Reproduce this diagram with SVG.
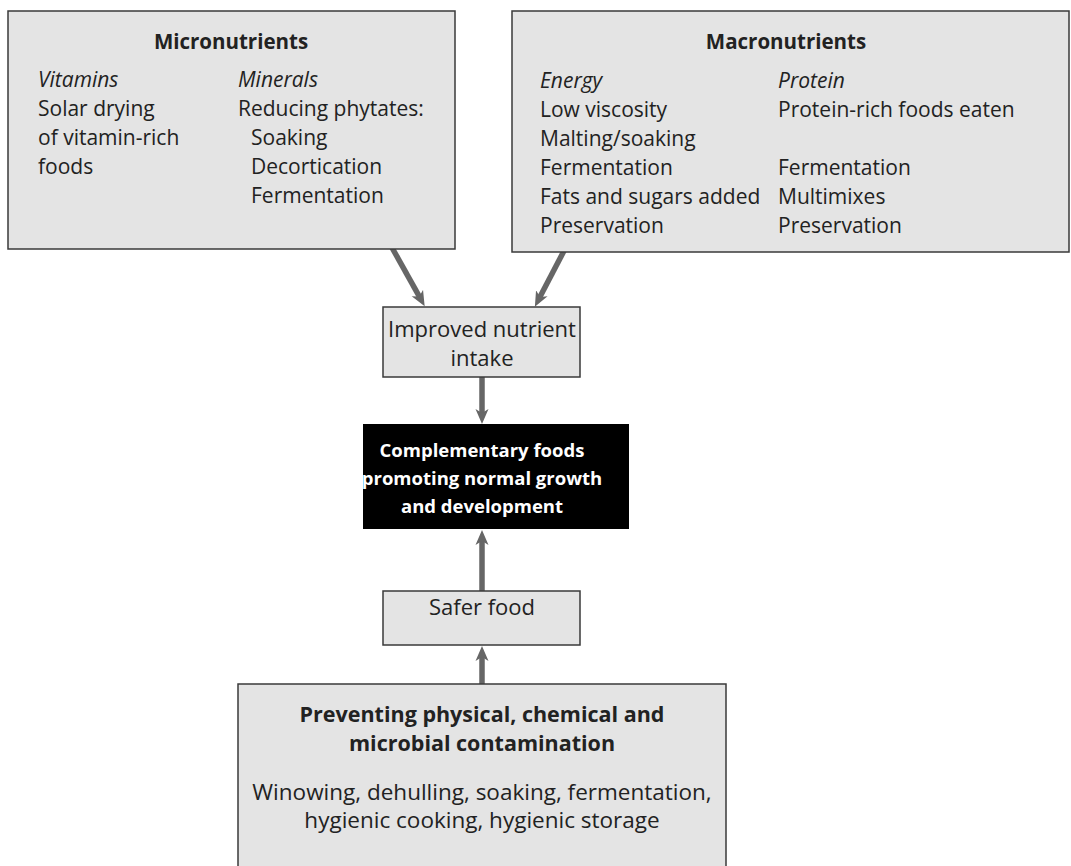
<svg xmlns="http://www.w3.org/2000/svg" width="1071" height="866" viewBox="0 0 1071 866">
<style>
.box{fill:#e4e4e4;stroke:#3a3a3a;stroke-width:1.5}
.t{font-family:"Open Sans","Liberation Sans",sans-serif;font-size:21px;fill:#222}
.b{font-weight:bold;font-size:20.5px}
.i{font-style:italic}
.m{font-size:22px}
.bb{font-weight:bold;font-size:21.5px}
.l{font-size:22.5px}
.w{fill:#fff;font-weight:bold;font-size:18.5px}
.c{text-anchor:middle}
.arr{stroke:#666;stroke-width:5.5;fill:none;marker-end:url(#ah)}
</style>
<defs>
<marker id="ah" markerUnits="userSpaceOnUse" markerWidth="16" markerHeight="14" refX="5" refY="6.5" orient="auto" viewBox="0 0 16 13">
<path d="M15,6.5 L0,0 L4,6.5 L0,13 Z" fill="#666"/>
</marker>
</defs>
<rect width="1071" height="866" fill="#fff"/>
<g id="connectors">
<path class="arr" d="M390,244 L419.8,297.4"/>
<path class="arr" d="M566,247 L539.5,297.8"/>
<path class="arr" d="M482,377 L482,414"/>
<path class="arr" d="M482,591 L482,540"/>
<path class="arr" d="M482,684 L482,656"/>
</g>
<g id="micronutrients">
<rect class="box" x="8" y="11" width="447" height="238"/>
<text class="t b c" x="231" y="49">Micronutrients</text>
<text class="t i" x="38" y="87">Vitamins</text>
<text class="t" x="38" y="116">Solar drying</text>
<text class="t" x="38" y="145">of vitamin-rich</text>
<text class="t" x="38" y="174">foods</text>
<text class="t i" x="238" y="87">Minerals</text>
<text class="t" x="238" y="116">Reducing phytates:</text>
<text class="t" x="251" y="145">Soaking</text>
<text class="t" x="251" y="174">Decortication</text>
<text class="t" x="251" y="203">Fermentation</text>
</g>
<g id="macronutrients">
<rect class="box" x="512" y="11" width="557" height="241"/>
<text class="t b c" x="786" y="49">Macronutrients</text>
<text class="t i" x="540" y="88">Energy</text>
<text class="t" x="540" y="117">Low viscosity</text>
<text class="t" x="540" y="146">Malting/soaking</text>
<text class="t" x="540" y="175">Fermentation</text>
<text class="t" x="540" y="204">Fats and sugars added</text>
<text class="t" x="540" y="233">Preservation</text>
<text class="t i" x="778" y="88">Protein</text>
<text class="t" x="778" y="117">Protein-rich foods eaten</text>
<text class="t" x="778" y="175">Fermentation</text>
<text class="t" x="778" y="204">Multimixes</text>
<text class="t" x="778" y="233">Preservation</text>
</g>
<g id="improved">
<rect class="box" x="383" y="307" width="197" height="70"/>
<text class="t m c" x="482" y="337">Improved nutrient</text>
<text class="t m c" x="482" y="366">intake</text>
</g>
<g id="complementary">
<rect x="363" y="424" width="266" height="105" fill="#000"/>
<text class="t w c" x="482" y="457">Complementary foods</text>
<text class="t w c" x="482" y="485">promoting normal growth</text>
<text class="t w c" x="482" y="513">and development</text>
</g>
<g id="safer">
<rect class="box" x="383" y="591" width="197" height="54"/>
<text class="t m c" x="482" y="615">Safer food</text>
</g>
<g id="preventing">
<rect class="box" x="238" y="684" width="488" height="200"/>
<text class="t bb c" x="482" y="722">Preventing physical, chemical and</text>
<text class="t bb c" x="482" y="751">microbial contamination</text>
<text class="t l c" x="482" y="800">Winowing, dehulling, soaking, fermentation,</text>
<text class="t l c" x="482" y="828">hygienic cooking, hygienic storage</text>
</g>
</svg>
